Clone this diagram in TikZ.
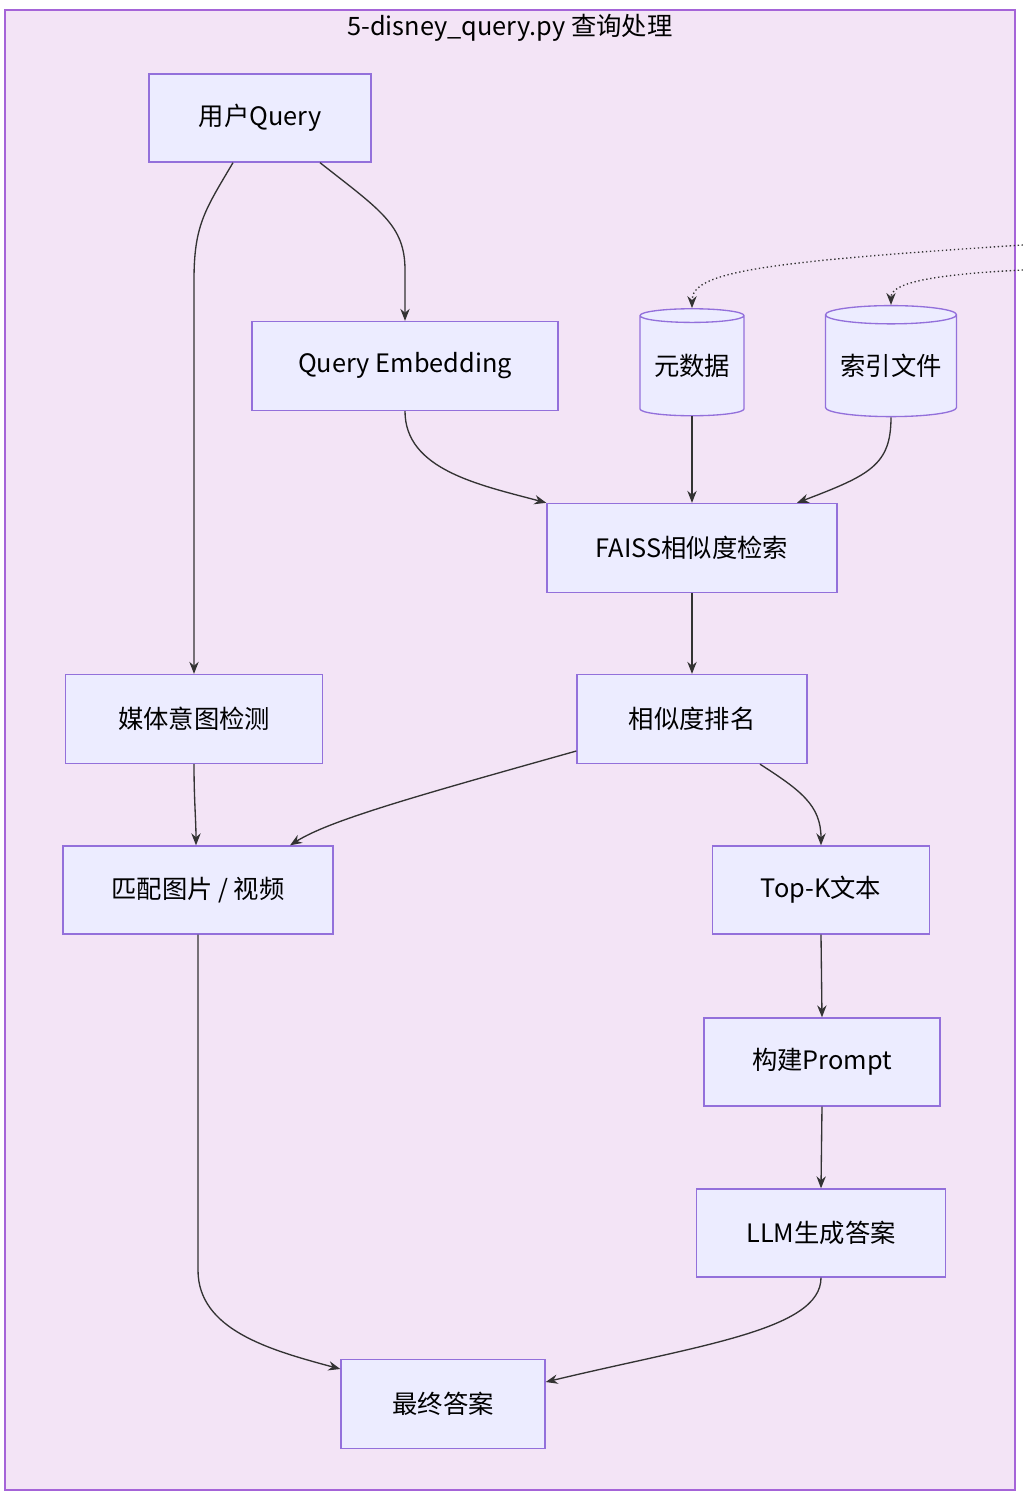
\documentclass[tikz,border=0pt]{standalone}
\usepackage{fontspec}
\setmainfont{Noto Sans CJK SC}
\usetikzlibrary{arrows.meta,shapes.geometric}
\definecolor{boxfill}{HTML}{ECECFF}
\definecolor{boxline}{HTML}{9370DB}
\definecolor{bgfill}{HTML}{F3E4F6}
\definecolor{bgline}{HTML}{A564D8}
\definecolor{linkcol}{HTML}{333333}
\newcommand\pxu{0.75pt}
\begin{document}
\begin{tikzpicture}[x=0.75pt,y=-0.75pt,>={Stealth[length=9pt,width=7pt]},
  main node/.style={rectangle,fill=boxfill,draw=boxline,line width=1pt,font=\fontsize{19}{23}\selectfont,inner sep=0pt},
  db node/.style={cylinder,shape border rotate=90,aspect=0.18,fill=boxfill,draw=boxline,line width=1pt,font=\fontsize{19}{23}\selectfont,inner sep=0pt},
  link/.style={->,draw=linkcol,line width=1pt}]

\useasboundingbox (0,0) rectangle (1023,1496);
\draw[fill=bgfill,draw=bgline,line width=1pt] (5,10) rectangle (1015,1490);
\node[font=\fontsize{19}{23}\selectfont](T) at (510,28) {5-disney\_query.py 查询处理};

\node[main node,minimum width=222*\pxu,minimum height=88*\pxu](Q) at (260,118) {用户Query};
\node[main node,minimum width=306*\pxu,minimum height=89*\pxu](QE) at (405,366) {Query Embedding};
\node[db node,minimum width=104*\pxu,minimum height=107*\pxu](M) at (692,366) {元数据};
\node[db node,minimum width=131*\pxu,minimum height=111*\pxu](I) at (891,366) {索引文件};
\node[main node,minimum width=290*\pxu,minimum height=89*\pxu](F) at (692,548) {FAISS相似度检索};
\node[main node,minimum width=230*\pxu,minimum height=89*\pxu](R) at (692,719) {相似度排名};
\node[main node,minimum width=257*\pxu,minimum height=89*\pxu](MD) at (194,719) {媒体意图检测};
\node[main node,minimum width=270*\pxu,minimum height=88*\pxu](MT) at (198,890) {匹配图片 / 视频};
\node[main node,minimum width=217*\pxu,minimum height=88*\pxu](TK) at (821,890) {Top-K文本};
\node[main node,minimum width=236*\pxu,minimum height=88*\pxu](P) at (822,1062) {构建Prompt};
\node[main node,minimum width=249*\pxu,minimum height=88*\pxu](L) at (821,1233) {LLM生成答案};
\node[main node,minimum width=204*\pxu,minimum height=89*\pxu](A) at (443,1404) {最终答案};
\coordinate (E1) at (1023,245);
\coordinate (E2) at (1023,270);

\path[link,dotted] (E1) .. controls (760,262) and (692,272) .. (M.north);
\path[link,dotted] (E2) .. controls (920,275) and (891,285) .. (I.north);
\path[link] (Q.south -| 233,0) .. controls (205,210) and (194,225) .. (194,280) -- (MD.north);
\path[link] (Q.south -| 320,0) .. controls (380,210) and (405,225) .. (405,270) -- (QE.north);
\path[link] (QE.south) .. controls (405,470) and (480,485) .. (F.north west);
\path[link] (M.south) -- (F.north);
\path[link] (I.south) .. controls (891,465) and (870,475) .. (F.north -| 797,0);
\path[link] (F.south) -- (R.north);
\path[link] (R.west |- 0,751) .. controls (420,795) and (330,820) .. (MT.north -| 290,0);
\path[link] (R.south -| 760,0) .. controls (800,790) and (821,805) .. (TK.north);
\path[link] (MD.south) .. controls (194,800) and (196,820) .. (MT.north -| 196,0);
\path[link] (TK.south) -- (P.north);
\path[link] (P.south) -- (L.north);
\path[link] (MT.south) -- (198,1270) .. controls (198,1330) and (270,1350) .. (A.west |- 0,1369);
\path[link] (L.south) .. controls (821,1330) and (700,1345) .. (A.east |- 0,1382);
\end{tikzpicture}
\end{document}
